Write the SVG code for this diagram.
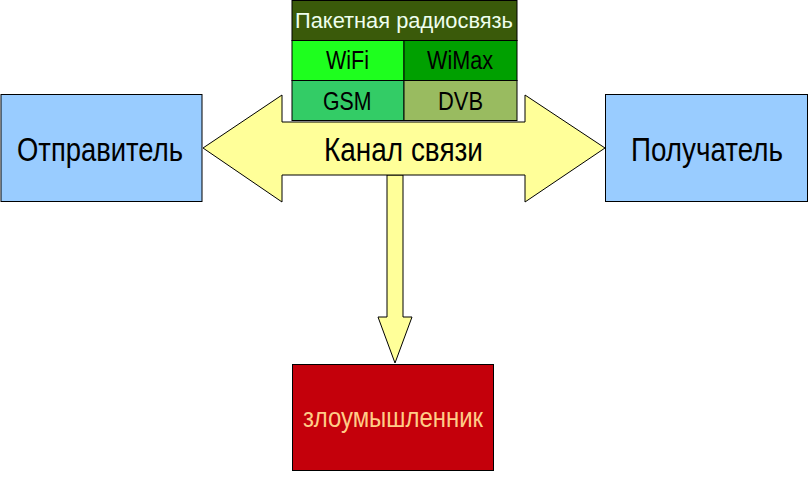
<svg xmlns="http://www.w3.org/2000/svg" width="809" height="477" viewBox="0 0 809 477">
<style>
text{font-family:"Liberation Sans",Arial,sans-serif}
.box{fill:#99CCFF;stroke:#000;stroke-width:1}
.arr{fill:#FFFF99;stroke:#000;stroke-width:1}
.cell{stroke:#000;stroke-width:1}
.big{font-size:33px;fill:#000}
.cl{font-size:26px;fill:#000}
</style>
<rect width="809" height="477" fill="#fff"/>
<g id="connectors">
<polygon class="arr" points="395,363 378,317 387,317 387,175 403,175 403,317 412,317"/>
<polygon class="arr" points="203,148 282,95 282,122 525,122 525,95 605,148 525,202 525,175 282,175 282,202"/>
<text class="big" transform="translate(324,160.5) scale(0.85,1)" x="0" y="0" font-size="31" textLength="187" lengthAdjust="spacingAndGlyphs">Канал связи</text>
</g>
<g id="table">
<rect class="cell" x="292" y="0.5" width="225" height="40" fill="#3A5A0A"/>
<text x="295" y="28" font-size="22" fill="#EEFFEE" textLength="218" lengthAdjust="spacingAndGlyphs">Пакетная радиосвязь</text>
<rect class="cell" x="292" y="40.5" width="112" height="40" fill="#1EFF1E"/>
<text class="cl" x="326" y="69" textLength="43" lengthAdjust="spacingAndGlyphs">WiFi</text>
<rect class="cell" x="404" y="40.5" width="113" height="40" fill="#00A000"/>
<text class="cl" x="427" y="69" textLength="66" lengthAdjust="spacingAndGlyphs">WiMax</text>
<rect class="cell" x="292" y="80.5" width="112" height="40" fill="#33CC66"/>
<text class="cl" x="323" y="110" textLength="48.5" lengthAdjust="spacingAndGlyphs">GSM</text>
<rect class="cell" x="404" y="80.5" width="113" height="40" fill="#99BB60"/>
<text class="cl" x="438" y="110" textLength="45" lengthAdjust="spacingAndGlyphs">DVB</text>
</g>
<g id="sender">
<rect class="box" x="1" y="94.5" width="201" height="107"/>
<text class="big" transform="translate(17,160.5) scale(0.85,1)" x="0" y="0" textLength="195.3" lengthAdjust="spacingAndGlyphs">Отправитель</text>
</g>
<g id="receiver">
<rect class="box" x="605.5" y="94.5" width="202" height="107"/>
<text class="big" transform="translate(631,160.5) scale(0.85,1)" x="0" y="0" textLength="178.8" lengthAdjust="spacingAndGlyphs">Получатель</text>
</g>
<g id="attacker">
<rect x="292.5" y="364.5" width="201" height="106" fill="#C4000B" stroke="#000" stroke-width="1"/>
<text transform="translate(303,427) scale(0.85,1)" x="0" y="0" font-size="28" fill="#FFCC88" textLength="211.8" lengthAdjust="spacingAndGlyphs">злоумышленник</text>
</g>
</svg>
